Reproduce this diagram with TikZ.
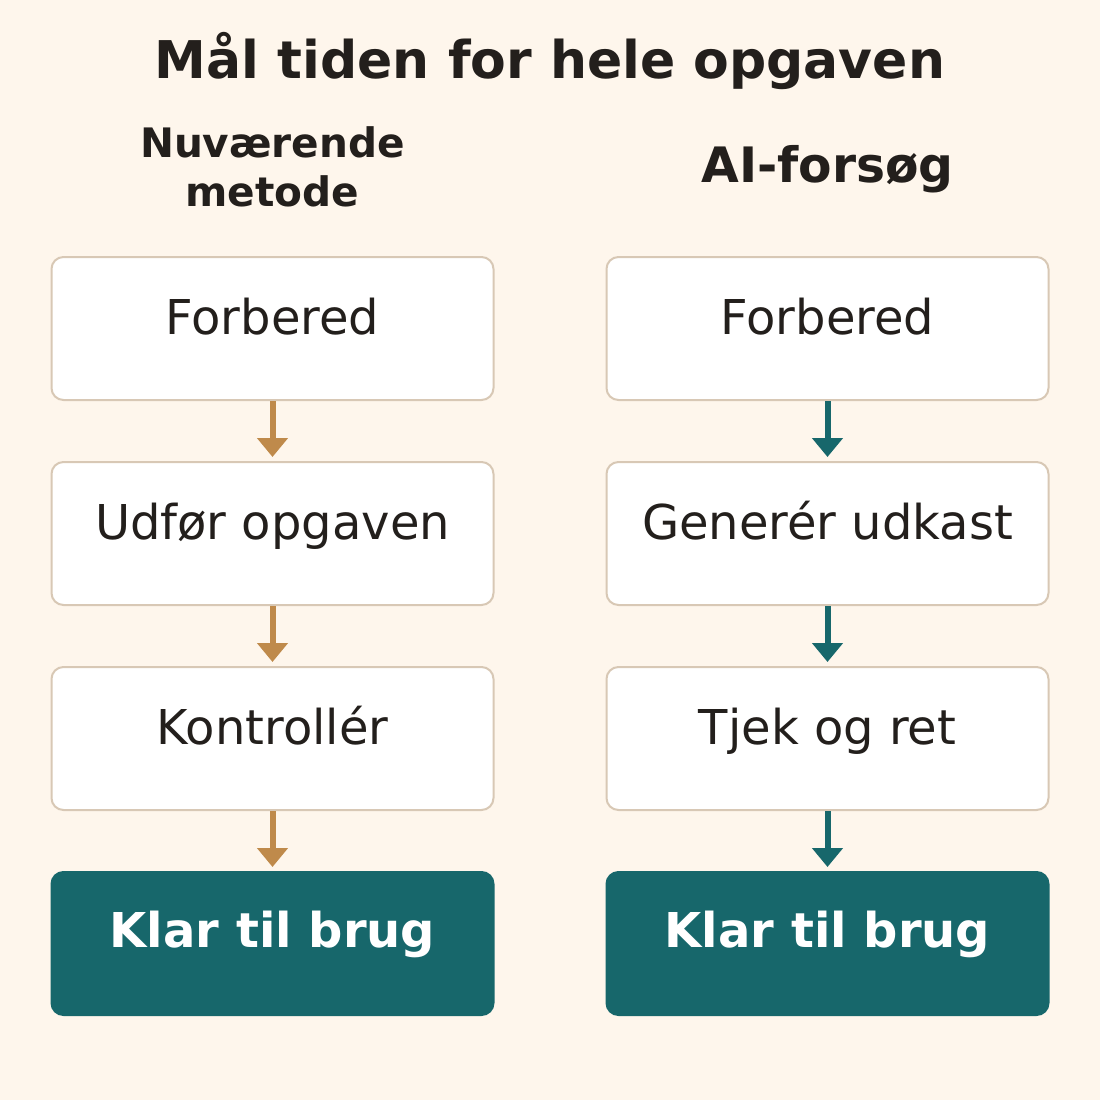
\documentclass[tikz,border=0pt]{standalone}
\usepackage{fontspec}
\setmainfont{DejaVu Sans}
\usetikzlibrary{positioning,arrows.meta}
\definecolor{bgcol}{HTML}{FEF6EC}
\definecolor{inkcol}{HTML}{231F1C}
\definecolor{edgecol}{HTML}{D8C8B5}
\definecolor{tancol}{HTML}{BF8A4B}
\definecolor{tealcol}{HTML}{17676B}
\tikzset{
  stepbox/.style={draw=edgecol, line width=2pt, fill=white, rounded corners=12pt,
    minimum width=442pt, minimum height=143pt, inner sep=0pt,
    text=inkcol, font=\fontsize{48}{56}\selectfont, text height=28pt, text depth=17pt},
  donebox/.style={stepbox, draw=tealcol, fill=tealcol, text=white,
    font=\bfseries\fontsize{48}{56}\selectfont, text height=26pt, text depth=19pt},
  tanarrow/.style={draw=tancol, line width=6pt, shorten >=4pt,
    -{Triangle[width=30pt,length=19pt]}},
  tealarrow/.style={tanarrow, draw=tealcol}
}
\begin{document}
\begin{tikzpicture}[x=1pt, y=-1pt]
\useasboundingbox[fill=bgcol] (0,0) rectangle (1100,1100);
% headings
\node[anchor=base, text=inkcol, font=\bfseries\fontsize{52}{60}\selectfont] (title) at (550,78) {Mål tiden for hele opgaven};
\node[anchor=base, text=inkcol, font=\bfseries\fontsize{40.6}{49}\selectfont] (lhead1) at (272.5,157) {Nuværende};
\node[anchor=base, text=inkcol, font=\bfseries\fontsize{40.6}{49}\selectfont] (lhead2) at (272.5,206) {metode};
\node[anchor=base, text=inkcol, font=\bfseries\fontsize{48.8}{56}\selectfont] (rhead) at (827.5,182) {AI-forsøg};
% current method
\node[stepbox] (l1) at (272.5,328.5) {Forbered};
\node[stepbox] (l2) at (272.5,533.5) {Udfør opgaven};
\node[stepbox] (l3) at (272.5,738.5) {Kontrollér};
\node[donebox] (l4) at (272.5,943.5) {Klar til brug};
% AI attempt
\node[stepbox] (r1) at (827.5,328.5) {Forbered};
\node[stepbox] (r2) at (827.5,533.5) {Generér udkast};
\node[stepbox] (r3) at (827.5,738.5) {Tjek og ret};
\node[donebox] (r4) at (827.5,943.5) {Klar til brug};
% arrows
\draw[tanarrow] (l1.south) -- (l2.north);
\draw[tanarrow] (l2.south) -- (l3.north);
\draw[tanarrow] (l3.south) -- (l4.north);
\draw[tealarrow] (r1.south) -- (r2.north);
\draw[tealarrow] (r2.south) -- (r3.north);
\draw[tealarrow] (r3.south) -- (r4.north);
\end{tikzpicture}
\end{document}
